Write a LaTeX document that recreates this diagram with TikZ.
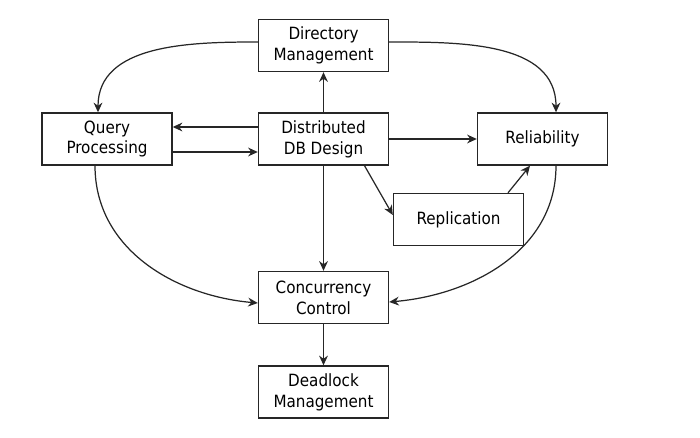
\documentclass[tikz,border=0pt]{standalone}
\usepackage{fontspec}
\setmainfont{DejaVu Sans Condensed}
\usetikzlibrary{arrows.meta}
\begin{document}
\begin{tikzpicture}[>={Stealth[length=5.5pt,width=5pt]},
    kuang/.style={draw=black!85,line width=.8pt,minimum width=2.6cm,minimum height=1.04cm,
        align=center,inner sep=0pt,font=\fontsize{9.6}{11.9}\selectfont},
    jian/.style={->,draw=black!85,line width=.7pt}]
\useasboundingbox (0,0) rectangle (14,8.74);
\node[kuang] (dir) at (6.47,7.83) {Directory\\Management};
\node[kuang] (qp) at (2.14,5.96) {Query\\Processing};
\node[kuang] (ddb) at (6.47,5.96) {Distributed\\DB Design};
\node[kuang] (rel) at (10.85,5.96) {Reliability};
\node[kuang] (rep) at (9.17,4.35) {Replication};
\node[kuang] (cc) at (6.47,2.79) {Concurrency\\Control};
\node[kuang] (dl) at (6.47,.9) {Deadlock\\Management};

\draw[jian] (ddb)--(dir);
\draw[jian] ([yshift=.07cm]dir.west) to[out=180,in=90] ([xshift=-.18cm]qp.north);
\draw[jian] ([yshift=.07cm]dir.east) to[out=0,in=90] ([xshift=.27cm]rel.north);
\draw[jian] ([yshift=.24cm]ddb.west)--([yshift=.24cm]qp.east);
\draw[jian] ([yshift=-.26cm]qp.east)--([yshift=-.26cm]ddb.west);
\draw[jian] (ddb)--(rel);
\draw[jian] ([xshift=.82cm]ddb.south)--([yshift=.09cm]rep.west);
\draw[jian] ([xshift=.99cm]rep.north)--([xshift=-.25cm]rel.south);
\draw[jian] ([xshift=.27cm]rel.south) to[out=-90,in=5] ([yshift=-.09cm]cc.east);
\draw[jian] ([xshift=-.24cm]qp.south) to[out=-90,in=175] ([yshift=-.11cm]cc.west);
\draw[jian] (ddb)--(cc);
\draw[jian] (cc)--(dl);
\end{tikzpicture}
\end{document}
